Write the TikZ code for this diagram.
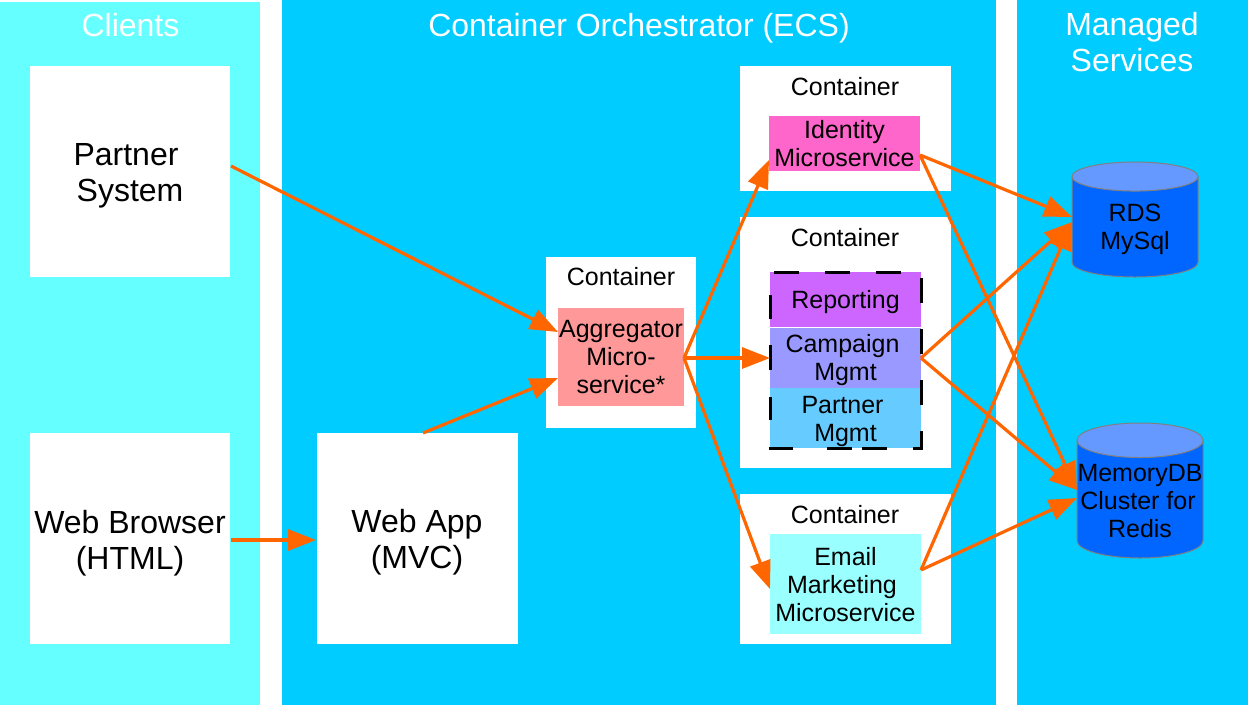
\documentclass[tikz,border=0pt]{standalone}
\usepackage{fontspec}
\setmainfont{Liberation Sans}
\usetikzlibrary{arrows.meta,shapes.geometric}
\definecolor{clientbg}{HTML}{66FFFF}
\definecolor{orchbg}{HTML}{00CCFF}
\definecolor{arrowc}{HTML}{FF6600}
\definecolor{cylbody}{HTML}{0066FF}
\definecolor{cyltop}{HTML}{6699FF}
\definecolor{idc}{HTML}{FF66CC}
\definecolor{aggc}{HTML}{FF9999}
\definecolor{repc}{HTML}{CC66FF}
\definecolor{camc}{HTML}{9999FF}
\definecolor{parc}{HTML}{66CCFF}
\definecolor{emc}{HTML}{99FFFF}
\tikzset{
  x=1pt,y=-1pt,
  rect/.style={rectangle,inner sep=0pt,outer sep=0pt,align=center},
  panel/.style={rect,fill=#1},
  bigtext/.style={font=\fontsize{32}{36}\selectfont},
  smalltext/.style={font=\fontsize{25}{28}\selectfont},
  contbox/.style={rect,fill=white},
  svc/.style={rect,fill=#1,smalltext},
  title/.style={inner sep=0pt,align=center,text=white,bigtext},
  clabel/.style={inner sep=0pt,smalltext,align=center},
  conn/.style={draw=arrowc,line width=3.2pt,-{Triangle[length=28pt,width=21pt]}},
  db/.style={cylinder,shape border rotate=90,draw=gray,line width=1pt,
    cylinder uses custom fill,cylinder body fill=cylbody,cylinder end fill=cyltop,
    inner sep=1pt,outer sep=0pt,smalltext,align=center,anchor=shape center},
  groupdash/.style={draw=black,line width=3pt,dash pattern=on 25pt off 26pt,dash phase=47pt},
  groupseg/.style={draw=black,line width=3pt},
}
\begin{document}
\begin{tikzpicture}
\useasboundingbox (0,0) rectangle (1248,705);
% panels
\node[panel=clientbg,minimum width=260pt,minimum height=703pt] (clients) at (130,353.5) {};
\node[panel=orchbg,minimum width=714pt,minimum height=705pt] (orch) at (639,352.5) {};
\node[panel=orchbg,minimum width=231pt,minimum height=705pt] (managed) at (1132.5,352.5) {};
\node[title] (tclients) at (130.5,25) {Clients};
\node[title] (torch) at (639,28) {Container Orchestrator (ECS)};
\node[title] (tmanaged) at (1132,42.5) {Managed\\Services};
% left boxes
\node[rect,fill=white,minimum width=200pt,minimum height=211pt] (partnersys) at (130,171.5) {};
\node[rect,fill=white,minimum width=200pt,minimum height=211pt] (browser) at (130,538.5) {};
\node[rect,fill=white,minimum width=201pt,minimum height=211pt] (webapp) at (417,538.5) {};
\node[title,text=black] (tpartnersys) at (130,175.5) {Partner\kern8pt\\System};
\node[title,text=black] (tbrowser) at (130,543) {Web Browser\\(HTML)};
\node[title,text=black] (twebapp) at (417,542.5) {Web App\\(MVC)};
% containers
\node[contbox,minimum width=150pt,minimum height=171pt] (cagg) at (621,342.5) {};
\node[contbox,minimum width=211pt,minimum height=125pt] (cid) at (845,128.5) {};
\node[contbox,minimum width=211pt,minimum height=251pt] (cmid) at (845,342.5) {};
\node[contbox,minimum width=211pt,minimum height=150pt] (cem) at (845,569) {};
\node[clabel] (lagg) at (621,277) {Container};
\node[clabel] (lid) at (845,86.5) {Container};
\node[clabel] (lmid) at (845,237.5) {Container};
\node[clabel] (lem) at (845,515) {Container};
% services
\node[svc=aggc,minimum width=126pt,minimum height=98pt] (agg) at (621,357) {Aggregator\\Micro-\\service*};
\node[svc=idc,minimum width=151pt,minimum height=55pt] (identity) at (844.5,143.5) {Identity\\Microservice};
\node[svc=repc,minimum width=151pt,minimum height=55pt] (reporting) at (845.5,299.5) {};
\node[svc=camc,minimum width=151pt,minimum height=60pt] (campaign) at (845.5,358) {};
\node[svc=parc,minimum width=151pt,minimum height=60pt] (partnermgmt) at (845.5,418) {};
\node[clabel] (treporting) at (845.5,302) {Reporting};
\node[clabel] (tcampaign) at (845.5,360) {Campaign\kern6pt\\Mgmt};
\node[clabel] (tpartner) at (845.5,421) {Partner\kern6pt\\Mgmt};
\node[svc=emc,minimum width=151pt,minimum height=100pt] (email) at (845.5,584) {};
\node[clabel] (temail) at (845.5,585) {Email\\Marketing\kern7pt\\Microservice};
% dashed grouping
\draw[groupdash] (770,272) -- (921,272) -- (921,448) -- (862,448);
\draw[groupseg] (852,448) -- (827,448) (793,448) -- (769,448) (770,420) -- (770,397) (770,370) -- (770,345) (770,319) -- (770,295);
% databases
\node[db,aspect=0.53,minimum height=115pt,minimum width=126pt] (rds) at (1135,219.5) {\phantom{RDS}};
\node[db,aspect=0.63,minimum height=135pt,minimum width=126pt] (memdb) at (1140,490.5) {\phantom{RDS}};
\node[clabel] (trds) at (1135,229) {RDS\\MySql};
\node[clabel] (tmem) at (1140,501) {MemoryDB\\Cluster for\kern4pt\\Redis};
% connector ends
\coordinate (pout) at (231,166);
\coordinate (ain1) at (558,332);
\coordinate (ain2) at (558,378);
\coordinate (wout) at (423,433);
\coordinate (aout) at (684,358);
\coordinate (iin) at (769,160);
\coordinate (ein) at (770,589);
\coordinate (iout) at (920,155);
\coordinate (eout) at (921,570);
\coordinate (cout) at (921,358);
\coordinate (rin1) at (1072,217);
\coordinate (rin2) at (1072,222);
\coordinate (min1) at (1077,490);
\coordinate (min2) at (1077,498);
\coordinate (bout) at (231,540);
\coordinate (win) at (316,540);
% connectors
\draw[conn] (pout) -- (ain1);
\draw[conn] (bout) -- (win);
\draw[conn] (wout) -- (ain2);
\draw[conn] (aout) -- (iin);
\draw[conn] (aout) -- (campaign.west);
\draw[conn] (aout) -- (ein);
\draw[conn] (iout) -- (rin1);
\draw[conn] (iout) -- (min1);
\draw[conn] (cout) -- (rin2);
\draw[conn] (cout) -- (min1);
\draw[conn] (eout) -- (rin2);
\draw[conn] (eout) -- (min2);
\end{tikzpicture}
\end{document}
